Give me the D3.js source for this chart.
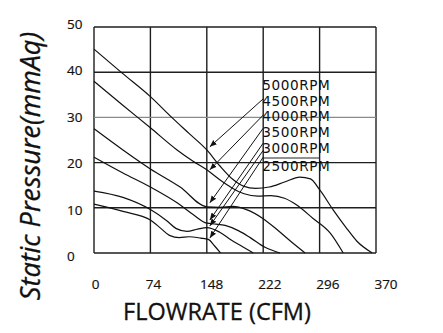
<!DOCTYPE html>
<html>
<head>
<meta charset="utf-8">
<script src="https://cdn.jsdelivr.net/npm/d3@7"></script>
<style>
  html, body { margin: 0; padding: 0; background: #fff; }
  svg { display: block; }
</style>
</head>
<body>
<svg id="chart" width="443" height="333"></svg>
<script>
// Fan performance curves: static pressure vs. airflow at six speeds
const flowTicks = [0, 74, 148, 222, 296, 370];
const pressureTicks = [0, 10, 20, 30, 40, 50];
const speedLabels = ["5000RPM", "4500RPM", "4000RPM", "3500RPM", "3000RPM", "2500RPM"];

// [flow CFM, static pressure mmAq]
const rpm5000 = [[0,45.1],[37,39.8],[74,34.6],[102,30],[125,26.4],[148,22.8],[165,19.3],[182,16.3],[196,14.8],[212,14.3],[230,14.6],[250,15.7],[270,16.8],[284,16.4],[296,14],[314,9.5],[330,5.8],[345,2.6],[365,0]];
const rpm4500 = [[0,38],[37,32.8],[74,27.7],[109,22.8],[130,20.3],[148,18.4],[165,16.2],[180,14.5],[197,13.1],[215,12.6],[232,12.7],[250,12.1],[266,10.6],[287,7.7],[310,4.4],[327,0]];
const rpm4000 = [[0,27.5],[38,22.8],[74,18.6],[113,14.6],[148,10.2],[165,10.1],[182,10.3],[200,9.6],[222,7.6],[240,5.2],[258,2.6],[277,0]];
const rpm3500 = [[0,21.2],[38,17.7],[74,14.6],[110,11],[130,8.5],[148,6.6],[160,6.4],[172,6.1],[190,4.9],[205,3.4],[225,1.2],[244,0]];
const rpm3000 = [[0,13.7],[38,12.3],[74,9.6],[95,7.2],[108,5.4],[122,4.8],[136,5.3],[148,5.6],[165,4.6],[180,2.9],[195,1.4],[209,0]];
const rpm2500 = [[0,10.8],[38,9.2],[74,7.3],[88,5.4],[99,3.9],[112,3.4],[125,3.6],[140,3.3],[150,3.0],[158,1.6],[166,0]];
const seriesList = [rpm5000, rpm4500, rpm4000, rpm3500, rpm3000, rpm2500];

// Callout leaders: label end [flow, pressure] -> curve end [flow, pressure]
const leaderFrom = [[222,34.1],[222,30.5],[222,27.6],[222,24.3],[222,22.7],[222,21.2]];
const leaderTo   = [[152,23.5],[152,18.4],[152,11.1],[152,7.3],[152,6.0],[152,3.3]];

const svg = d3.select("#chart");
const W = 443, H = 333;
svg.append("rect").attr("width", W).attr("height", H).attr("fill", "#fff");

const x = d3.scaleLinear().domain([0, 370]).range([94, 376]);
const y = d3.scaleLinear().domain([0, 50]).range([253, 27]);

// tick labels sit on a slightly wider spacing than the grid
const xLab = d3.scaleLinear().domain([0, 370]).range([95.5, 386]);
const yLab = d3.scaleLinear().domain([0, 50]).range([261, 29]);

// grid
const grid = svg.append("g").attr("stroke", "#1e1e1e").attr("stroke-width", 1.4);
grid.selectAll("line.v").data(flowTicks).join("line")
  .attr("x1", d => x(d)).attr("x2", d => x(d))
  .attr("y1", y(0)).attr("y2", y(50));
grid.selectAll("line.h").data(pressureTicks).join("line")
  .attr("x1", x(0)).attr("x2", x(370))
  .attr("y1", d => y(d)).attr("y2", d => y(d))
  .attr("stroke", d => d === 30 ? "#8a8a8a" : null);

// tick labels
const tickFont = "'Open Sans', 'Noto Sans', sans-serif";
svg.append("g").selectAll("text").data(pressureTicks).join("text")
  .attr("x", 67).attr("y", d => yLab(d))
  .attr("font-family", tickFont).attr("font-size", 13.5).attr("fill", "#111")
  .attr("stroke", "#111").attr("stroke-width", 0.2)
  .text(d => d);
svg.append("g").selectAll("text").data(flowTicks).join("text")
  .attr("x", d => xLab(d)).attr("y", 289)
  .attr("text-anchor", "middle")
  .attr("font-family", tickFont).attr("font-size", 13.5).attr("fill", "#111")
  .attr("stroke", "#111").attr("stroke-width", 0.2)
  .text(d => d);

// axis titles
svg.append("text")
  .attr("x", 217).attr("y", 320)
  .attr("text-anchor", "middle")
  .attr("font-family", tickFont).attr("font-size", 23.5).attr("fill", "#111")
  .attr("stroke", "#111").attr("stroke-width", 0.3)
  .text("FLOWRATE (CFM)");
svg.append("text")
  .attr("transform", "translate(40,166) rotate(-90)")
  .attr("text-anchor", "middle")
  .attr("font-family", tickFont).attr("font-style", "italic").attr("font-size", 27).attr("fill", "#111")
  .attr("stroke", "#111").attr("stroke-width", 0.3)
  .text("Static Pressure(mmAq)");

// curves
const line = d3.line().x(d => x(d[0])).y(d => y(d[1])).curve(d3.curveMonotoneX);
svg.append("g").selectAll("path").data(seriesList).join("path")
  .attr("d", line).attr("fill", "none").attr("stroke", "#111").attr("stroke-width", 1.2);

// arrowhead marker
svg.append("defs").append("marker")
  .attr("id", "ah").attr("viewBox", "0 0 10 10").attr("refX", 10).attr("refY", 5)
  .attr("markerWidth", 7).attr("markerHeight", 7).attr("markerUnits", "userSpaceOnUse")
  .attr("orient", "auto")
  .append("path").attr("d", "M0,1 L10,5 L0,9 Z").attr("fill", "#111");

svg.append("g").selectAll("line").data(leaderFrom).join("line")
  .attr("x1", d => x(d[0])).attr("y1", d => y(d[1]))
  .attr("x2", (d, i) => x(leaderTo[i][0])).attr("y2", (d, i) => y(leaderTo[i][1]))
  .attr("stroke", "#111").attr("stroke-width", 1).attr("marker-end", "url(#ah)");

// speed labels
const labelBaselines = [90, 105.5, 121, 137, 153, 170.5];
svg.append("g").selectAll("text").data(speedLabels).join("text")
  .attr("x", x(222) - 1).attr("y", (d, i) => labelBaselines[i])
  .attr("font-family", "'DejaVu Sans', Verdana, sans-serif").attr("font-size", 13.6)
  .attr("letter-spacing", 0.6).attr("fill", "#111")
  .text(d => d);
svg.append("line")
  .attr("x1", x(222)).attr("x2", x(296)).attr("y1", 158).attr("y2", 158)
  .attr("stroke", "#222").attr("stroke-width", 1);
</script>
</body>
</html>
